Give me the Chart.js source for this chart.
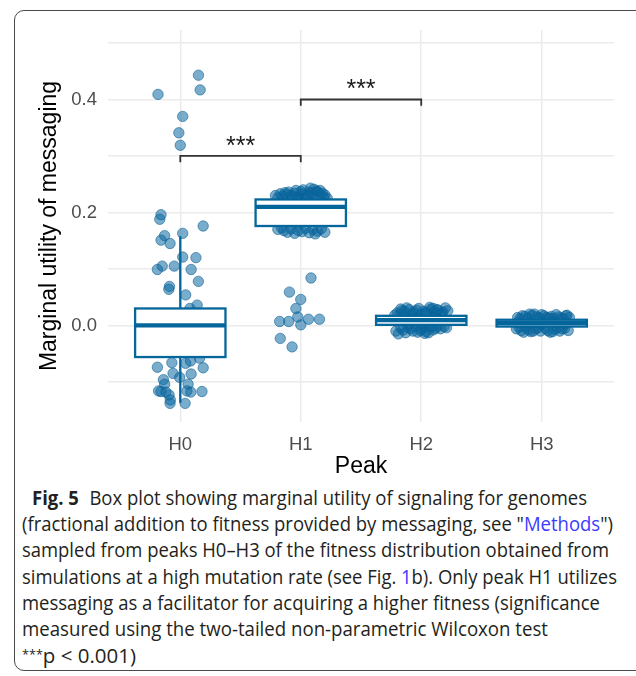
<!DOCTYPE html>
<html>
<head>
<meta charset="utf-8">
<script src="https://cdn.jsdelivr.net/npm/chart.js@4.4.1/dist/chart.umd.min.js"></script>
<style>
  html, body { margin: 0; padding: 0; background: #fff; width: 636px; height: 676px; overflow: hidden; }
  #frame { position: absolute; left: 14px; top: 10px; width: 640px; height: 661px; border: 1.3px solid #4a4a4a; border-radius: 10px; box-sizing: border-box; }
  #wrap { position: absolute; left: 0; top: 0; width: 636px; height: 480px; }
  #caption { position: absolute; left: 22px; top: 485px; font-family: "Open Sans", sans-serif; font-size: 19.5px; line-height: 26.2px; color: #231f20; }
  #caption .ln { display: block; white-space: nowrap; width: max-content; transform-origin: 0 50%; }
  #caption b { margin-right: 6px; }
  #caption .lnk { color: #3a3aff; }
</style>
</head>
<body>
<div id="frame"></div>
<div id="wrap"><canvas id="chart" width="636" height="480"></canvas></div>
<div id="caption">
  <span class="ln" data-w="555" style="margin-left:10px"><b>Fig. 5</b> Box plot showing marginal utility of signaling for genomes</span>
  <span class="ln" data-w="591">(fractional addition to fitness provided by messaging, see "<span class="lnk">Methods</span>")</span>
  <span class="ln" data-w="587">sampled from peaks H0–H3 of the fitness distribution obtained from</span>
  <span class="ln" data-w="595">simulations at a high mutation rate (see Fig. <span class="lnk">1</span>b). Only peak H1 utilizes</span>
  <span class="ln" data-w="578">messaging as a facilitator for acquiring a higher fitness (significance</span>
  <span class="ln" data-w="526">measured using the two-tailed non-parametric Wilcoxon test</span>
  <span class="ln" data-w="114"><sup style="font-size:12px;vertical-align:4px">***</sup>p &lt; 0.001)</span>
</div>
<script>
// 类别与刻度
const peaks = ["H0", "H1", "H2", "H3"];
const yGridValues = [-0.1, 0, 0.1, 0.2, 0.3, 0.4, 0.5];
const yLabelled = [0, 0.2, 0.4];

// 各峰的抖动点：水平偏移与数值
const h0Offset = [-0.185, 0.151, 0.165, 0.02, -0.012, 0.0, -0.16, -0.17, 0.19, 0.02, -0.13, -0.16, -0.085,
  0.02, 0.13, -0.15, -0.19, -0.05, 0.09, 0.15, -0.09, -0.095, 0.045, 0.14, 0.08,
  -0.1, 0.05, 0.12, -0.15, 0.0,
  -0.07, -0.19, 0.045, 0.085, 0.19, 0.16, -0.06, 0.09, -0.14, -0.005, -0.13, 0.065,
  -0.18, -0.12, -0.093, 0.055, 0.087, 0.18, -0.16, -0.083, -0.085, 0.04];
const h0Values = [0.409, 0.443, 0.417, 0.370, 0.341, 0.319, 0.196, 0.188, 0.176, 0.163, 0.159, 0.151, 0.145,
  0.121, 0.120, 0.105, 0.099, 0.105, 0.099, 0.078, 0.069, 0.064, 0.054, 0.036, 0.030,
  0.010, -0.020, -0.040, 0.020, -0.030,
  -0.066, -0.074, -0.067, -0.063, -0.075, -0.058, -0.085, -0.086, -0.096, -0.092, -0.104, -0.104,
  -0.116, -0.118, -0.123, -0.116, -0.118, -0.117, -0.117, -0.132, -0.138, -0.138];

const h1Offset = [-0.19, -0.15, -0.12, -0.08, -0.05, -0.02, 0.01, 0.04, 0.07, 0.1, 0.13, 0.16, 0.19, 0.22,
  -0.1, 0.0, 0.08, 0.11, 0.16, -0.17, -0.03, 0.05,
  -0.21, -0.13, -0.07, 0.02, 0.09, 0.14, 0.2, -0.04, 0.06, 0.18,
  -0.19, -0.14, -0.11, -0.08, -0.05, -0.02, 0.01, 0.04, 0.07, 0.1, 0.14, 0.17, 0.2, -0.16, 0.12,
  -0.1, 0.05, 0.15, -0.15, 0.0, 0.1, -0.05,
  0.085, -0.094, 0.0, -0.04, -0.025, -0.175, -0.1, 0.0, 0.064, 0.155, -0.17, -0.072];
const h1Values = [0.226, 0.229, 0.232, 0.230, 0.234, 0.228, 0.233, 0.231, 0.236, 0.229, 0.238, 0.232, 0.227, 0.225,
  0.236, 0.237, 0.243, 0.241, 0.239, 0.233, 0.226, 0.227,
  0.230, 0.235, 0.228, 0.240, 0.234, 0.236, 0.231, 0.239, 0.229, 0.234,
  0.170, 0.168, 0.165, 0.171, 0.163, 0.168, 0.166, 0.172, 0.164, 0.170, 0.167, 0.171, 0.165, 0.173, 0.162,
  0.190, 0.200, 0.185, 0.210, 0.215, 0.218, 0.180,
  0.084, 0.059, 0.046, 0.030, 0.015, 0.007, 0.007, 0.001, 0.011, 0.011, -0.023, -0.038];

const h2Offset = [-0.2, -0.16, -0.13, -0.1, -0.06, -0.02, 0.02, 0.05, 0.08, 0.11, 0.14, 0.17, 0.2, 0.22,
  -0.18, 0.0, 0.12, -0.08, 0.07, -0.12,
  -0.14, -0.04, 0.04, 0.1, 0.16, -0.22, 0.18, -0.07, 0.13, -0.17,
  -0.21, -0.17, -0.13, -0.09, -0.05, -0.01, 0.02, 0.04, 0.07, 0.1, 0.13, 0.16, 0.19, -0.19, 0.03, -0.03,
  -0.11, -0.07, 0.0, 0.06, 0.12, 0.21, -0.15, 0.09,
  -0.15, -0.05, 0.05, 0.15, 0.0, 0.1, -0.1];
const h2Values = [0.022, 0.026, 0.020, 0.028, 0.024, 0.030, 0.025, 0.021, 0.029, 0.024, 0.027, 0.022, 0.031, 0.026,
  0.019, 0.020, 0.019, 0.018, 0.032, 0.031,
  0.025, 0.027, 0.023, 0.030, 0.019, 0.018, 0.024, 0.021, 0.028, 0.029,
  -0.010, -0.004, -0.013, -0.006, -0.002, -0.009, -0.004, -0.011, -0.003, -0.008, -0.001, -0.006, -0.002, -0.015, -0.014, -0.012,
  -0.003, -0.010, -0.006, -0.013, -0.005, -0.004, -0.008, -0.002,
  0.008, 0.012, 0.006, 0.010, 0.004, 0.014, 0.003];

const h3Offset = [-0.2, -0.16, -0.12, -0.08, -0.04, 0.0, 0.04, 0.08, 0.12, 0.16, 0.2, 0.23, -0.1, 0.1, -0.18,
  -0.14, -0.06, 0.02, 0.06, 0.14, 0.18, -0.02, 0.21,
  -0.21, -0.17, -0.13, -0.09, -0.05, -0.01, 0.03, 0.07, 0.11, 0.15, 0.19, 0.22, -0.15, 0.13,
  -0.19, -0.11, -0.03, 0.05, 0.09, 0.17, -0.07,
  -0.1, 0.0, 0.1, 0.2, -0.2];
const h3Values = [0.014, 0.017, 0.013, 0.018, 0.015, 0.019, 0.014, 0.016, 0.019, 0.013, 0.017, 0.014, 0.020, 0.012, 0.012,
  0.016, 0.020, 0.017, 0.013, 0.015, 0.012, 0.013, 0.018,
  -0.006, -0.009, -0.004, -0.011, -0.006, -0.010, -0.005, -0.012, -0.007, -0.010, -0.005, -0.009, -0.012, -0.004,
  -0.003, -0.008, -0.004, -0.009, -0.011, -0.006, -0.010,
  0.004, 0.002, 0.006, 0.003, 0.005];

// 箱线图统计量
const boxQ1 = [-0.056, 0.176, 0.001, -0.002];
const boxMedian = [0.0, 0.210, 0.0095, 0.004];
const boxQ3 = [0.030, 0.223, 0.017, 0.010];
const whiskerLow = [-0.137, 0.170, -0.010, -0.009];
const whiskerHigh = [0.158, 0.230, 0.028, 0.017];

// 显著性标注
const bracketFrom = [0, 1];
const bracketTo = [1, 2];
const bracketAt = [0.30, 0.40];
const bracketText = ["***", "***"];

const boxColor = "#04669b";

const offsets = [h0Offset, h1Offset, h2Offset, h3Offset];
const values = [h0Values, h1Values, h2Values, h3Values];
const points = [];
values.forEach((vals, i) => {
  vals.forEach((v, k) => points.push({ x: i + offsets[i][k], y: v }));
});

const boxPlugin = {
  id: "boxes",
  afterDatasetsDraw(chart) {
    const { ctx, scales: { x, y } } = chart;
    const half = x.getPixelForValue(0.375) - x.getPixelForValue(0);
    ctx.save();
    ctx.strokeStyle = boxColor;
    peaks.forEach((p, i) => {
      const cx = x.getPixelForValue(i);
      const top = y.getPixelForValue(boxQ3[i]);
      const bot = y.getPixelForValue(boxQ1[i]);
      ctx.lineWidth = 2.3;
      ctx.beginPath();
      ctx.moveTo(cx, y.getPixelForValue(whiskerHigh[i]));
      ctx.lineTo(cx, top);
      ctx.moveTo(cx, bot);
      ctx.lineTo(cx, y.getPixelForValue(whiskerLow[i]));
      ctx.stroke();
      ctx.fillStyle = "#fff";
      ctx.fillRect(cx - half, top, half * 2, bot - top);
      ctx.strokeRect(cx - half, top, half * 2, bot - top);
      ctx.lineWidth = 4.3;
      ctx.beginPath();
      const m = y.getPixelForValue(boxMedian[i]);
      ctx.moveTo(cx - half, m);
      ctx.lineTo(cx + half, m);
      ctx.stroke();
    });

    // 括号与星号
    ctx.strokeStyle = "#333";
    ctx.lineWidth = 1.8;
    ctx.fillStyle = "#1a1a1a";
    ctx.font = "25px 'Liberation Sans', Arial, sans-serif";
    ctx.textAlign = "center";
    ctx.textBaseline = "alphabetic";
    bracketAt.forEach((v, k) => {
      const x1 = x.getPixelForValue(bracketFrom[k]);
      const x2 = x.getPixelForValue(bracketTo[k]);
      const yy = y.getPixelForValue(v);
      const drop = y.getPixelForValue(v - 0.011);
      ctx.beginPath();
      ctx.moveTo(x1, drop);
      ctx.lineTo(x1, yy);
      ctx.lineTo(x2, yy);
      ctx.lineTo(x2, drop);
      ctx.stroke();
      ctx.fillText(bracketText[k], (x1 + x2) / 2, yy - 2);
    });
    ctx.restore();
  }
};

const tickFont = { family: "'Liberation Sans', Arial, sans-serif", size: 18.5 };
const titleFont = { family: "'Liberation Sans', Arial, sans-serif", size: 23 };

new Chart(document.getElementById("chart").getContext("2d"), {
  type: "scatter",
  data: {
    datasets: [{
      data: points,
      backgroundColor: "rgba(10, 104, 158, 0.54)",
      borderColor: "rgba(10, 95, 150, 0.58)",
      borderWidth: 1,
      pointRadius: 5.2,
      pointHoverRadius: 5.2
    }]
  },
  options: {
    responsive: false,
    animation: false,
    layout: { padding: { top: 30, right: 22, left: 0, bottom: 0 } },
    plugins: { legend: { display: false }, tooltip: { enabled: false } },
    scales: {
      x: {
        type: "linear",
        min: -0.6,
        max: 3.6,
        afterBuildTicks: (s) => { s.ticks = peaks.map((p, i) => ({ value: i })); },
        afterFit: (s) => { s.height = 58; },
        grid: { color: "#ebebeb", lineWidth: 1.5, drawTicks: false },
        border: { display: false },
        ticks: { padding: 12, color: "#4d4d4d", font: tickFont, callback: (v) => peaks[v] },
        title: { display: true, text: "Peak", color: "#000", font: titleFont, padding: { top: 0, bottom: 0 } }
      },
      y: {
        min: -0.171,
        max: 0.523,
        afterBuildTicks: (s) => { s.ticks = yGridValues.map((v) => ({ value: v })); },
        afterFit: (s) => { s.width = 108; },
        grid: { color: "#ebebeb", lineWidth: 1.5, drawTicks: false },
        border: { display: false },
        ticks: {
          padding: 11,
          color: "#4d4d4d",
          font: tickFont,
          callback: (v) => (yLabelled.some((t) => Math.abs(t - v) < 1e-9) ? v.toFixed(1) : "")
        },
        title: { display: true, text: "Marginal utility of messaging", color: "#000", font: titleFont, padding: { top: 36, bottom: 0 } }
      }
    }
  },
  plugins: [boxPlugin]
});

// 图注每行按参考宽度拉伸
document.querySelectorAll("#caption .ln").forEach((el) => {
  const w = el.getBoundingClientRect().width;
  el.style.transform = `scaleX(${parseFloat(el.dataset.w) / w})`;
});
</script>
</body>
</html>
